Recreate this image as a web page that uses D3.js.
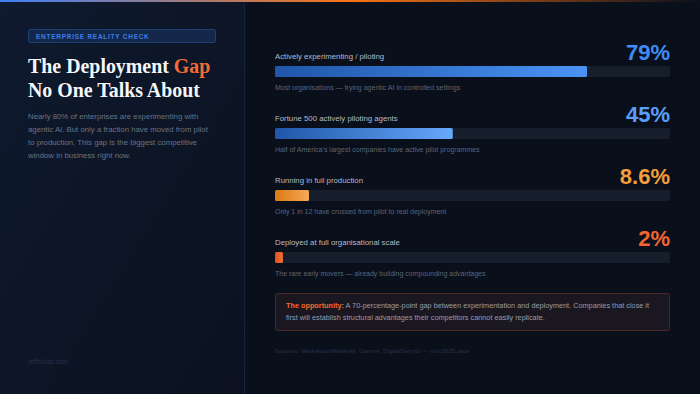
<!DOCTYPE html>
<html>
<head>
<meta charset="utf-8">
<script src="https://cdn.jsdelivr.net/npm/d3@7/dist/d3.min.js"></script>
<style>
  html, body { margin: 0; padding: 0; background: #0a0f1c; }
  svg { display: block; }
  text { font-family: "Liberation Sans", Arial, sans-serif; }
</style>
</head>
<body>
<svg id="chart"></svg>
<script>
"use strict";

// Chart data
const labels = [
    "Actively experimenting / piloting",
    "Fortune 500 actively piloting agents",
    "Running in full production",
    "Deployed at full organisational scale"
];
const values = [79, 45, 8.6, 2];
const valueLabels = ["79%", "45%", "8.6%", "2%"];
const notes = [
    "Most organisations \u2014 trying agentic AI in controlled settings",
    "Half of America\u2019s largest companies have active pilot programmes",
    "Only 1 in 12 have crossed from pilot to real deployment",
    "The rare early movers \u2014 already building compounding advantages"
];
const introLines = [
    "Nearly 80% of enterprises are experimenting with",
    "agentic AI. But only a fraction have moved from pilot",
    "to production. This gap is the biggest competitive",
    "window in business right now."
];
const calloutLines = [
    "A 70-percentage-point gap between experimentation and deployment. Companies that close it",
    "first will establish structural advantages their competitors cannot easily replicate."
];

const width = 700;
const height = 394;

// colours per row: [gradient start, gradient end, value colour]
const rowColors = [
    ["#1f56a8", "#4a93f5", "#3f8cf4"],
    ["#1f56a8", "#66a8fb", "#5a9ef8"],
    ["#d97a12", "#f7a857", "#f59d3d"],
    ["#e04f1c", "#f7703a", "#f26531"]
];

const svg = d3.select('#chart')
    .attr('width', width)
    .attr('height', height);

const defs = svg.append('defs');

// top accent line
const topGrad = defs.append('linearGradient').attr('id', 'topGrad');
topGrad.append('stop').attr('offset', '0%').attr('stop-color', '#3b82f6');
topGrad.append('stop').attr('offset', '50%').attr('stop-color', '#f97316');
topGrad.append('stop').attr('offset', '100%').attr('stop-color', '#f97316').attr('stop-opacity', 0);

const panelGrad = defs.append('linearGradient').attr('id', 'panelGrad')
    .attr('x1', '0%').attr('y1', '0%').attr('x2', '100%').attr('y2', '100%');
panelGrad.append('stop').attr('offset', '0%').attr('stop-color', '#0f1a2f');
panelGrad.append('stop').attr('offset', '100%').attr('stop-color', '#0b111e');

rowColors.forEach((c, i) => {
    const gr = defs.append('linearGradient').attr('id', 'barGrad' + i);
    gr.append('stop').attr('offset', '0%').attr('stop-color', c[0]);
    gr.append('stop').attr('offset', '100%').attr('stop-color', c[1]);
});

// backgrounds
svg.append('rect').attr('width', width).attr('height', height).attr('fill', '#0a0f1c');
svg.append('rect').attr('width', 245).attr('height', height).attr('fill', 'url(#panelGrad)');
svg.append('line')
    .attr('x1', 244.5).attr('x2', 244.5).attr('y1', 0).attr('y2', height)
    .attr('stroke', '#16233d').attr('stroke-width', 1);
svg.append('rect').attr('width', width).attr('height', 2).attr('fill', 'url(#topGrad)');

// ---- left panel ----
const left = svg.append('g');

left.append('rect')
    .attr('x', 28.5).attr('y', 29.5).attr('width', 187).attr('height', 13).attr('rx', 1.5)
    .attr('fill', '#13274a').attr('stroke', '#1e3f72').attr('stroke-width', 1);
left.append('text')
    .attr('x', 36).attr('y', 38.5)
    .style('font-size', '6.4px').style('font-weight', 'bold').style('letter-spacing', '0.8px')
    .attr('fill', '#3b7fe6')
    .text('ENTERPRISE REALITY CHECK');

const title = left.append('text')
    .attr('x', 28).attr('y', 73)
    .style('font-family', '"Liberation Serif", "DejaVu Serif", serif')
    .style('font-size', '19.9px').style('font-weight', 'bold')
    .attr('fill', '#f4f6fa');
title.append('tspan').text('The Deployment ');
title.append('tspan').attr('fill', '#f26a36').text('Gap');
left.append('text')
    .attr('x', 28).attr('y', 97)
    .style('font-family', '"Liberation Serif", "DejaVu Serif", serif')
    .style('font-size', '19.9px').style('font-weight', 'bold')
    .attr('fill', '#f4f6fa')
    .text('No One Talks About');

left.selectAll('text.intro')
    .data(introLines)
    .enter().append('text')
    .attr('class', 'intro')
    .attr('x', 28)
    .attr('y', (d, i) => 119 + i * 13)
    .style('font-size', '7.8px')
    .attr('fill', '#687383')
    .text(d => d);

left.append('text')
    .attr('x', 28).attr('y', 364)
    .style('font-size', '6.5px')
    .attr('fill', '#263247')
    .text('jeffbullas.com');

// ---- right panel: bars ----
const x = d3.scaleLinear().domain([0, 100]).range([275, 670]);
const rowY = d3.scaleLinear().domain([0, 1]).range([66, 128]); // bar top per row index
const barH = 11;

const rows = svg.append('g')
    .selectAll('g')
    .data(values)
    .enter().append('g')
    .attr('transform', (d, i) => 'translate(0,' + rowY(i) + ')');

rows.append('rect')
    .attr('x', x(0)).attr('y', 0)
    .attr('width', x(100) - x(0)).attr('height', barH).attr('rx', 1.5)
    .attr('fill', '#161d2b');

rows.append('rect')
    .attr('x', x(0)).attr('y', 0)
    .attr('width', d => x(d) - x(0)).attr('height', barH).attr('rx', 1.5)
    .attr('fill', (d, i) => 'url(#barGrad' + i + ')');

rows.append('text')
    .attr('x', x(0)).attr('y', -7.5)
    .style('font-size', '7.8px')
    .attr('fill', '#b3bbc7')
    .text((d, i) => labels[i]);

rows.append('text')
    .attr('x', x(100)).attr('y', -6)
    .attr('text-anchor', 'end')
    .style('font-size', '22px').style('font-weight', 'bold')
    .attr('fill', (d, i) => rowColors[i][2])
    .text((d, i) => valueLabels[i]);

rows.append('text')
    .attr('x', x(0)).attr('y', barH + 12.5)
    .style('font-size', '7px')
    .attr('fill', '#5b6575')
    .text((d, i) => notes[i]);

// ---- callout ----
svg.append('rect')
    .attr('x', 275.5).attr('y', 293.5).attr('width', 394).attr('height', 37).attr('rx', 2)
    .attr('fill', '#1a1720').attr('stroke', '#4a2a22').attr('stroke-width', 1);

const call = svg.append('g');
const first = call.append('text')
    .attr('x', 286).attr('y', 308)
    .style('font-size', '7.3px')
    .attr('fill', '#949dab');
first.append('tspan').attr('fill', '#f26a2e').style('font-weight', 'bold').text('The opportunity:');
first.append('tspan').text(' ' + calloutLines[0]);
call.append('text')
    .attr('x', 286).attr('y', 320)
    .style('font-size', '7.3px')
    .attr('fill', '#949dab')
    .text(calloutLines[1]);

svg.append('text')
    .attr('x', 275).attr('y', 353)
    .style('font-size', '6.2px')
    .attr('fill', '#263247')
    .text('Sources: MarketsandMarkets, Gartner, DigitalDefynd \u2014 mid-2025 data');
</script>
</body>
</html>
